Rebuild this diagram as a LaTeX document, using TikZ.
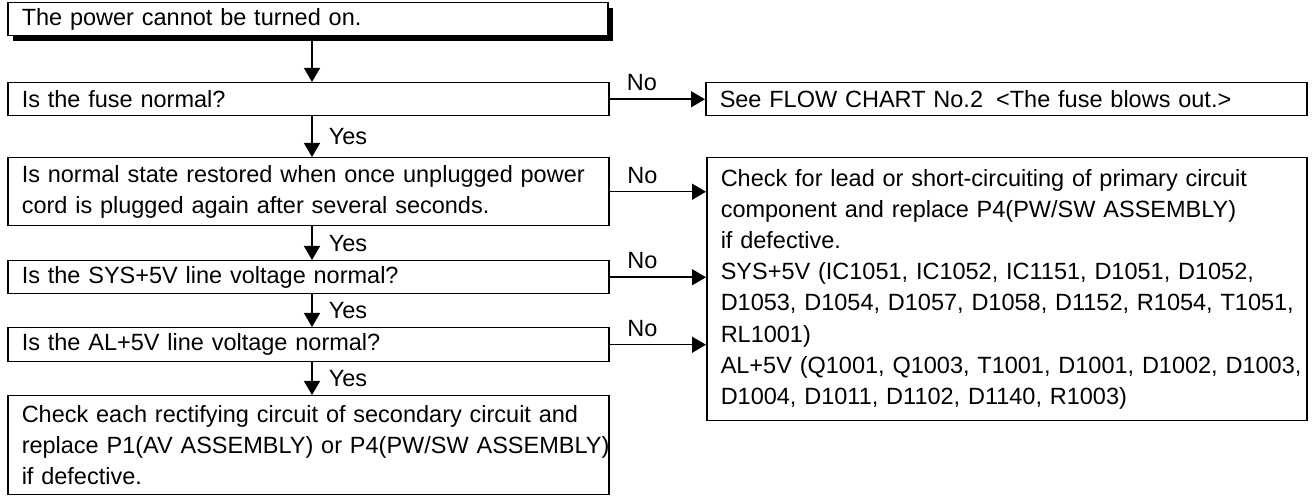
\documentclass[tikz,border=0pt]{standalone}
\usepackage{fontspec}
\setmainfont{Liberation Sans}
\usetikzlibrary{arrows.meta,shadows}
\newcommand\oneline[1]{\makebox[0pt][l]{#1}}
\begin{document}
\begin{tikzpicture}[x=0.5pt,y=-0.5pt,
  font=\fontsize{11.75}{15.6}\selectfont,
  box/.style={draw, line width=0.75pt, fill=white, inner xsep=7pt, inner ysep=0pt,
    anchor=north west, align=left, text width=#1},
  arr/.style={line width=0.75pt, -{Triangle[width=8pt,length=7pt]}},
  lbl/.style={inner sep=0pt, font=\fontsize{11.75}{14}\selectfont},
  nolbl/.style={lbl, pos=0.34, anchor=south, yshift=3.75pt},
  yeslbl/.style={lbl, midway, anchor=west, xshift=8pt}
]
\useasboundingbox (0,0) rectangle (1312,496);

\node[box=286pt, minimum height=16.5pt,
  drop shadow={shadow xshift=2.5pt, shadow yshift=-2.5pt, opacity=1, fill=black}]
  (start) at (7,2) {\oneline{The power cannot be turned on.}};
\node[box=286.5pt, minimum height=16.5pt] (fuse) at (7,82) {\oneline{Is the fuse normal?}};
\node[box=286.5pt, minimum height=34pt] (restore) at (7,157)
  {\oneline{Is normal state restored when once unplugged power}\\
   \oneline{cord is plugged again after several seconds.}};
\node[box=286.5pt, minimum height=16.5pt] (sys) at (7,260) {\oneline{Is the SYS+5V line voltage normal?}};
\node[box=286.5pt, minimum height=17pt] (al) at (7,327) {\oneline{Is the AL+5V line voltage normal?}};
\node[box=286.5pt, minimum height=49.5pt] (final) at (7,395)
  {\oneline{Check each rectifying circuit of secondary circuit and}\\
   \oneline{replace P1(AV ASSEMBLY) or P4(PW/SW ASSEMBLY)}\\
   \oneline{if defective.}};

\node[box=286.5pt, minimum height=16.5pt] (see) at (705,82)
  {\oneline{See FLOW CHART No.2\hspace{0.556em}<The fuse blows out.>}};
\node[box=286pt, minimum height=131.5pt] (big) at (706,157)
  {\oneline{Check for lead or short-circuiting of primary circuit}\\
   \oneline{component and replace P4(PW/SW ASSEMBLY)}\\
   \oneline{if defective.}\\
   \oneline{SYS+5V (IC1051, IC1052, IC1151, D1051, D1052,}\\
   \oneline{D1053, D1054, D1057, D1058, D1152, R1054, T1051,}\\
   \oneline{RL1001)}\\
   \oneline{AL+5V (Q1001, Q1003, T1001, D1001, D1002, D1003,}\\
   \oneline{D1004, D1011, D1102, D1140, R1003)}};

\coordinate (ax) at (312,0);

\draw[arr] (start.south -| ax) -- (fuse.north -| ax);
\draw[arr] (fuse.south -| ax) -- node[yeslbl] {Yes} (restore.north -| ax);
\draw[arr] (restore.south -| ax) -- node[yeslbl] {Yes} (sys.north -| ax);
\draw[arr] (sys.south -| ax) -- node[yeslbl] {Yes} (al.north -| ax);
\draw[arr] (al.south -| ax) -- node[yeslbl] {Yes} (final.north -| ax);

\draw[arr] (fuse.east) -- node[nolbl] {No} (see.west);
\draw[arr] (restore.east) -- node[nolbl] {No} (restore.east -| big.west);
\draw[arr] (sys.east) -- node[nolbl] {No} (sys.east -| big.west);
\draw[arr] (al.east) -- node[nolbl] {No} (al.east -| big.west);
\end{tikzpicture}
\end{document}
